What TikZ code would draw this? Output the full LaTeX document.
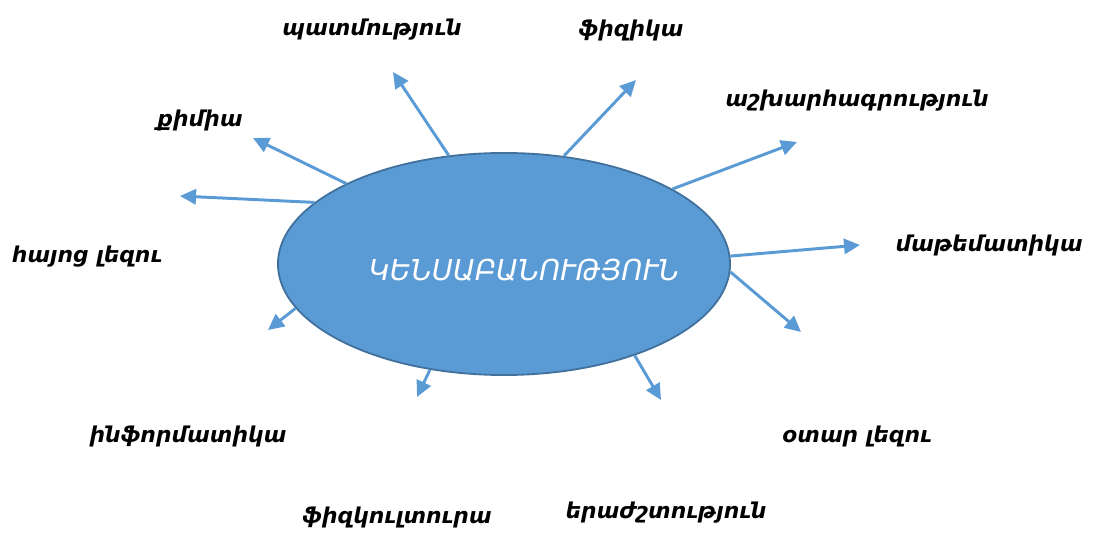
\documentclass[tikz,border=0pt]{standalone}
\usepackage{fontspec}
\setmainfont{DejaVu Sans}
\usetikzlibrary{arrows.meta,shapes.geometric}
\definecolor{themecolor}{HTML}{5B9BD5}
\definecolor{edgecolor}{HTML}{41719C}

\begin{document}
\begin{tikzpicture}[
			x=0.025cm,y=-0.025cm,
			corebox/.style={
				ellipse,
				draw=edgecolor,
				line width=1.3pt,
				fill=themecolor,
				minimum width=11.3cm,
				minimum height=5.55cm,
				inner sep=0pt
			},
			coretext/.style={
				text=white,
				inner sep=0pt,
				font=\fontsize{20.5}{24}\selectfont\itshape
			},
			topicbox/.style={
				inner sep=0pt,
				font=\fontsize{15.5}{19}\selectfont\bfseries\itshape
			},
			topicarrow/.style={
				-{Triangle[length=0.4cm,width=0.38cm]},
				draw=themecolor,
				line width=2.1pt
			}
			]
			
			\useasboundingbox (0,0) rectangle (1096,536);
			
			\node[corebox] (biology) at (504,264) {};
			\node[coretext] (biologytext) at (524,270) {ԿԵՆՍԱԲԱՆՈՒԹՅՈՒՆ};
			
			\node[topicbox] (history) at (372,30) {պատմություն};
			\node[topicbox] (physics) at (631,30) {ֆիզիկա};
			\node[topicbox] (geography) at (857,101) {աշխարհագրություն};
			\node[topicbox] (chemistry) at (200,120) {քիմիա};
			\node[topicbox] (armenian) at (87,257) {հայոց լեզու};
			\node[topicbox] (maths) at (989,245) {մաթեմատիկա};
			\node[topicbox] (foreign) at (857,436) {օտար լեզու};
			\node[topicbox] (informatics) at (188,436) {ինֆորմատիկա};
			\node[topicbox] (sport) at (397,517) {ֆիզկուլտուրա};
			\node[topicbox] (music) at (666,513) {երաժշտություն};
			
			% arrow tips
			\coordinate (historytip) at (393,72);
			\coordinate (physicstip) at (636,80);
			\coordinate (geographytip) at (797,142);
			\coordinate (chemistrytip) at (253,138);
			\coordinate (armeniantip) at (180,196);
			\coordinate (mathstip) at (860,245);
			\coordinate (foreigntip) at (801,332);
			\coordinate (informaticstip) at (268,330);
			\coordinate (sporttip) at (417,397);
			\coordinate (musictip) at (661,400);
			
			\draw[topicarrow] (biology.117.6) -- (historytip);
			\draw[topicarrow] (biology.61.5) -- (physicstip);
			\draw[topicarrow] (biology.24.3) -- (geographytip);
			\draw[topicarrow] (biology.153) -- (chemistrytip);
			\draw[topicarrow] (biology.162.6) -- (armeniantip);
			\draw[topicarrow] (biology.2.3) -- (mathstip);
			\draw[topicarrow] (biology.-2.3) -- (foreigntip);
			\draw[topicarrow] (biology.192.5) -- (informaticstip);
			\draw[topicarrow] (biology.235.3) -- (sporttip);
			\draw[topicarrow] (biology.325.7) -- (musictip);
			
		\end{tikzpicture}
\end{document}
